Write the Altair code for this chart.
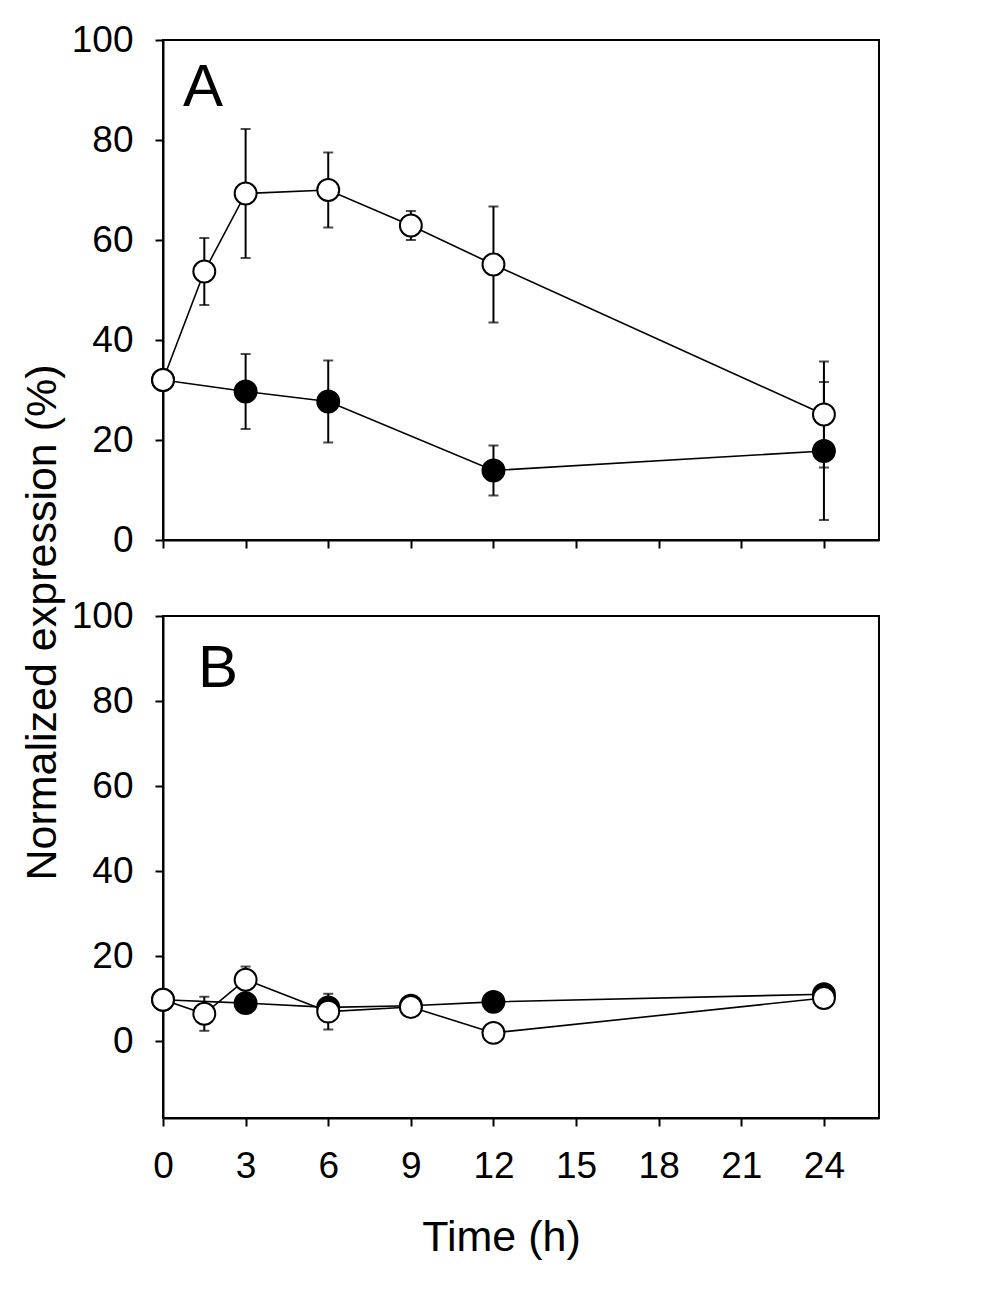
import altair as alt
import pandas as pd

# ---------------- data ----------------
x_ticks = [0, 3, 6, 9, 12, 15, 18, 21, 24]
y_ticks = [0, 20, 40, 60, 80, 100]

# Panel A
a_open_time = [0, 1.5, 3, 6, 9, 12, 24]
a_open_val = [32.0, 53.7, 69.3, 70.0, 62.9, 55.1, 25.1]
a_open_err = [0, 6.7, 12.9, 7.5, 2.9, 11.6, 10.6]
a_fill_time = [0, 3, 6, 12, 24]
a_fill_val = [32.0, 29.7, 27.7, 13.9, 17.8]
a_fill_err = [0, 7.5, 8.2, 5.0, 13.8]

# Panel B
b_open_time = [0, 1.5, 3, 6, 9, 12, 24]
b_open_val = [9.8, 6.5, 14.5, 7.0, 8.1, 2.0, 10.2]
b_open_err = [0, 4.0, 3.1, 4.2, 0, 0, 0]
b_fill_time = [0, 3, 6, 9, 12, 24]
b_fill_val = [9.8, 9.0, 8.0, 8.4, 9.3, 11.1]
b_fill_err = [0, 0, 0, 0, 0, 0]

FONT = "Liberation Sans"


def frame(t_open, v_open, e_open, t_fill, v_fill, e_fill):
    d1 = pd.DataFrame({"time": t_open, "value": v_open, "err": e_open, "series": "open"})
    d2 = pd.DataFrame({"time": t_fill, "value": v_fill, "err": e_fill, "series": "filled"})
    d = pd.concat([d2, d1], ignore_index=True)
    d["lo"] = d["value"] - d["err"]
    d["hi"] = d["value"] + d["err"]
    return d


def panel(df, ydomain, letter, letter_x, letter_y, x_axis, y_axis, height):
    xs = alt.Scale(domain=[0, 26], nice=False, zero=False)
    ys = alt.Scale(domain=ydomain, nice=False, zero=False)
    X = alt.X("time:Q", scale=xs, axis=x_axis)
    Y = alt.Y("value:Q", scale=ys, axis=y_axis)
    base = alt.Chart(df)
    lines = base.mark_line(color="black", strokeWidth=1.6).encode(
        x=X, y=Y, detail="series:N"
    )
    errs = base.transform_filter("datum.err > 0")
    rule = errs.mark_rule(color="black", strokeWidth=2).encode(
        x=alt.X("time:Q", scale=xs), y=alt.Y("lo:Q", scale=ys), y2="hi:Q"
    )
    cap_lo = errs.mark_tick(color="black", orient="horizontal", size=10, thickness=2).encode(
        x=alt.X("time:Q", scale=xs), y=alt.Y("lo:Q", scale=ys)
    )
    cap_hi = errs.mark_tick(color="black", orient="horizontal", size=10, thickness=2).encode(
        x=alt.X("time:Q", scale=xs), y=alt.Y("hi:Q", scale=ys)
    )
    pts_fill = base.transform_filter("datum.series == 'filled'").mark_point(
        shape="circle", filled=True, size=480, fill="black", stroke="black",
        strokeWidth=2, opacity=1
    ).encode(x=alt.X("time:Q", scale=xs), y=alt.Y("value:Q", scale=ys))
    pts_open = base.transform_filter("datum.series == 'open'").mark_point(
        shape="circle", filled=True, size=480, fill="white", stroke="black",
        strokeWidth=2, opacity=1
    ).encode(x=alt.X("time:Q", scale=xs), y=alt.Y("value:Q", scale=ys))
    lab = alt.Chart(pd.DataFrame({"label": [letter]})).mark_text(
        font=FONT, fontSize=60, align="left", baseline="alphabetic", color="black"
    ).encode(text="label:N", x=alt.value(letter_x), y=alt.value(letter_y))
    return alt.layer(lines, rule, cap_lo, cap_hi, pts_fill, pts_open, lab).properties(
        width=716, height=height
    )


df_a = frame(a_open_time, a_open_val, a_open_err, a_fill_time, a_fill_val, a_fill_err)
df_b = frame(b_open_time, b_open_val, b_open_err, b_fill_time, b_fill_val, b_fill_err)

xaxis_a = alt.Axis(values=x_ticks, labels=False, title=None)
yaxis_a = alt.Axis(
    values=y_ticks,
    title="Normalized expression (%)",
    titleX=-121,
    titleY=582,
    titleAngle=270,
    titleAlign="center",
    titleBaseline="middle",
)
xaxis_b = alt.Axis(
    values=x_ticks,
    title="Time (h)",
    titleX=338,
    titleY=132,
    titleAlign="center",
    titleBaseline="alphabetic",
)
yaxis_b = alt.Axis(values=y_ticks, title=None)

pa = panel(df_a, [0, 100], "A", 20, 66, xaxis_a, yaxis_a, 500)
pb = panel(df_b, [-18, 100], "B", 35, 71, xaxis_b, yaxis_b, 502)

chart = (
    alt.vconcat(pa, pb, spacing=76, bounds="flush")
    .properties(padding={"left": 12, "top": 12, "right": 10, "bottom": 10})
    .configure_view(stroke="black", strokeWidth=2)
    .configure_axis(
        labelFont=FONT,
        labelFontSize=37,
        labelColor="black",
        labelFlush=False,
        titleFont=FONT,
        titleFontSize=43,
        titleFontWeight="normal",
        titleColor="black",
        domainColor="black",
        domainWidth=2,
        tickColor="black",
        tickWidth=2,
        tickSize=8,
        grid=False,
    )
    .configure_axisX(labelPadding=22)
    .configure_axisY(labelPadding=22)
)

chart.save("out.html", embed_options={"renderer": "svg", "actions": False})
